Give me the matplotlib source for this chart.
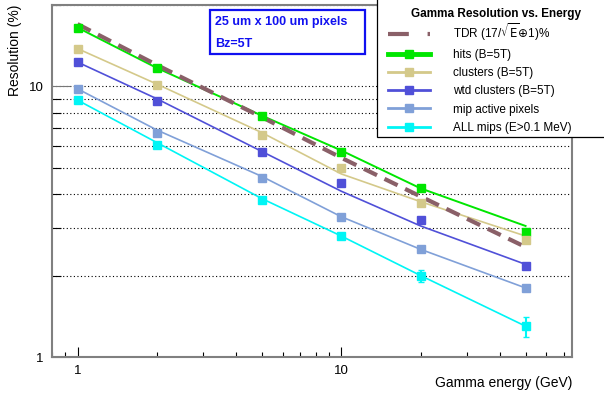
import matplotlib
matplotlib.use("Agg")
import matplotlib.pyplot as plt
from matplotlib.lines import Line2D
from matplotlib.patches import Rectangle
from matplotlib.ticker import LogLocator, FuncFormatter, NullFormatter

plt.rcParams["font.family"] = ["Liberation Sans", "DejaVu Sans"]
plt.rcParams["mathtext.fontset"] = "dejavusans"

energy = [1, 2, 5, 10, 20, 50]

# measured points
tdr = [17.0, 12.0, 7.7, 5.45, 3.92, 2.55]
hits = [16.5, 11.7, 7.8, 5.7, 4.2, 2.9]
clusters = [13.8, 10.1, 6.6, 5.0, 3.7, 2.7]
wtd_clusters = [12.3, 8.8, 5.7, 4.4, 3.2, 2.17]
mip_pixels = [9.8, 6.75, 4.6, 3.3, 2.5, 1.8]
all_mips = [8.9, 6.1, 3.8, 2.8, 2.0, 1.3]
all_mips_err = [0.05, 0.05, 0.06, 0.08, 0.1, 0.11]

# fitted curves
hits_fit = [16.5, 11.7, 7.8, 5.8, 4.2, 3.05]
clusters_fit = [13.8, 10.2, 6.75, 4.75, 3.75, 2.8]
wtd_fit = [12.3, 9.0, 5.75, 4.1, 3.05, 2.2]
mip_fit = [9.8, 6.9, 4.65, 3.3, 2.5, 1.8]
all_mips_fit = [8.9, 6.2, 3.85, 2.8, 2.0, 1.3]

c_tdr = "#8a6068"
c_hits = "#00e600"
c_clus = "#d4c98a"
c_wtd = "#5050d8"
c_mip = "#80a0d8"
c_all = "#00f5f5"

W, H = 604, 394
fig = plt.figure(figsize=(W / 100, H / 100), dpi=100)
ax = fig.add_axes([52 / W, 37 / H, 520 / W, 352 / H])

ax.plot(energy, tdr, color=c_tdr, lw=3, dashes=(3.5, 2), zorder=4)

series = [
    (hits, hits_fit, c_hits, 1.4),
    (clusters, clusters_fit, c_clus, 1.2),
    (wtd_clusters, wtd_fit, c_wtd, 1.2),
    (mip_pixels, mip_fit, c_mip, 1.2),
]
for pts, fit, col, lw in series:
    ax.plot(energy, fit, color=col, lw=lw, zorder=3)
    ax.plot(energy, pts, "s", color=col, ms=5.5, zorder=5)

ax.plot(energy, all_mips_fit, color=c_all, lw=1.2, zorder=3)
ax.errorbar(energy, all_mips, yerr=all_mips_err, fmt="s", color=c_all,
            ms=5.5, elinewidth=1.5, capsize=2, zorder=5)

ax.set_xscale("log")
ax.set_yscale("log")
ax.set_xlim(0.8, 75)
ax.set_ylim(1, 20)

fmt = FuncFormatter(lambda v, p: f"{v:g}")
for axis in (ax.xaxis, ax.yaxis):
    axis.set_major_locator(LogLocator(base=10))
    axis.set_minor_locator(LogLocator(base=10, subs=range(2, 10)))
    axis.set_major_formatter(fmt)
    axis.set_minor_formatter(NullFormatter())

ax.tick_params(axis="x", which="major", direction="in", length=7.5, width=0.8, pad=6, labelsize=9.5)
ax.tick_params(axis="x", which="minor", direction="in", length=3.6, width=0.8)
ax.tick_params(axis="y", which="major", direction="in", length=13, width=0.8, color="#777777", pad=6, labelsize=9.5)
ax.tick_params(axis="y", which="minor", direction="in", length=6.5, width=0.8)
ax.yaxis.grid(True, which="both", color="black", lw=0.8, linestyle=(0, (1, 2.2)))
for s in ax.spines.values():
    s.set_color("#808080")
    s.set_linewidth(1.5)

ax.set_xlabel("Gamma energy (GeV)", fontsize=10, loc="right")
ax.xaxis.set_label_coords(1.0, -0.053)
fig.text(15 / W, 1 - 5 / H, "Resolution (%)", fontsize=10, rotation=90,
         ha="center", va="top")

# info box
fig.patches.append(Rectangle((210 / W, 1 - 54 / H), 155 / W, 44 / H, transform=fig.transFigure,
                             facecolor="white", edgecolor="#1010f0", lw=1.6, zorder=10))
fig.text(215 / W, 1 - 22 / H, "25 um x 100 um pixels", color="#1010f0", fontsize=9,
         fontweight="bold", va="center", zorder=11)
fig.text(215 / W, 1 - 44 / H, "Bz=5T", color="#1010f0", fontsize=9,
         fontweight="bold", va="center", zorder=11)

# legend
fig.patches.append(Rectangle((377 / W, 1 - 137 / H), 240 / W, 140 / H, transform=fig.transFigure,
                             facecolor="white", edgecolor="black", lw=0.9, zorder=10))
fig.text(496 / W, 1 - 14 / H, "Gamma Resolution vs. Energy", fontsize=8.5,
         fontweight="bold", ha="center", va="center", zorder=11)
handles = [
    Line2D([], [], color=c_tdr, lw=3, dashes=(5, 4.5)),
    Line2D([], [], color=c_hits, lw=3.5, marker="s", ms=6),
    Line2D([], [], color=c_clus, lw=2, marker="s", ms=6),
    Line2D([], [], color=c_wtd, lw=2, marker="s", ms=6),
    Line2D([], [], color=c_mip, lw=2, marker="s", ms=6),
    Line2D([], [], color=c_all, lw=2, marker="s", ms=6),
]
labels = [
    r"TDR (17/$\sqrt{\mathrm{E}}{\oplus}$1)%",
    "hits (B=5T)",
    "clusters (B=5T)",
    "wtd clusters (B=5T)",
    "mip active pixels",
    "ALL mips (E>0.1 MeV)",
]
leg = fig.legend(handles, labels, loc="upper left", bbox_to_anchor=(380 / W, 1 - 13 / H),
                 frameon=False, fontsize=8.5,
                 handlelength=3.5, handletextpad=2.0, labelspacing=0.52, borderpad=0.2,
                 numpoints=1)
leg.set_zorder(11)

fig.savefig("out.png", dpi=100)
